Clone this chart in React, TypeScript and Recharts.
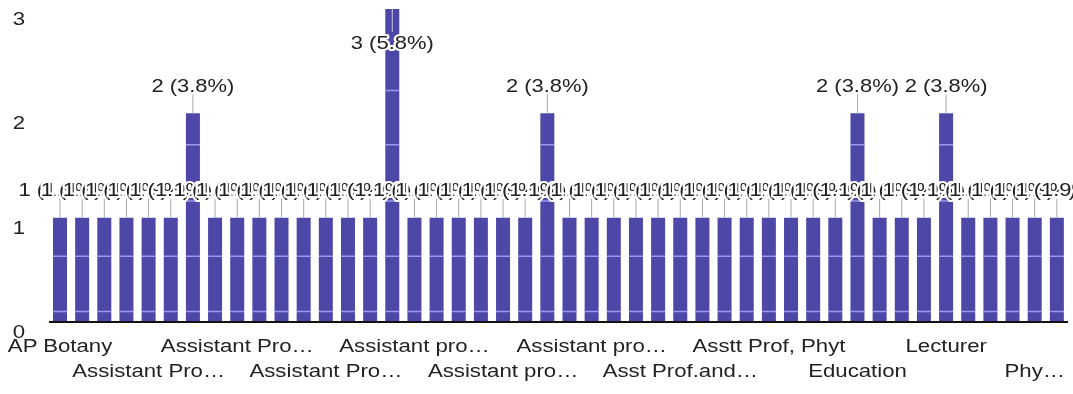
import React from "react";
import { BarChart, Bar, XAxis, YAxis, LabelList, ReferenceLine } from "recharts";

const categories: string[] = [
  "AP Botany", "AP Chemistry", "AP Physics", "AP Zoology",
  "Assistant Professor", "Assistant Professor Biology", "Assistant Professor Botany", "Assistant Professor Chemistry",
  "Assistant Professor Commerce", "Assistant Professor Economics", "Assistant Professor English", "Assistant Professor Hindi",
  "Assistant Professor History", "Assistant Professor Mathematics", "Assistant Professor Physics", "Assistant Professor Zoology",
  "Assistant professor", "Assistant professor Biology", "Assistant professor Botany", "Assistant professor Chemistry",
  "Assistant professor Commerce", "Assistant professor English", "Assistant professor Physics", "Assistant professor Zoology",
  "Assistant professor, Botany", "Asst Prof", "Asst Prof Botany", "Asst Prof Physics",
  "Asst Prof.and Head", "Asst. Professor", "Asst. Professor Botany", "Asstt Prof",
  "Asstt Prof, Phyt", "Associate Professor", "Associate Professor Botany", "Dean",
  "Education", "Guest Faculty", "HOD", "Head",
  "Lecturer", "Lecturer Botany", "Lecturer Physics", "Librarian",
  "Physics Lecturer", "Principal",
];

const counts: number[] = [
  1, 1, 1, 1, 1, 1, 2, 1, 1, 1, 1, 1, 1, 1, 1, 3,
  1, 1, 1, 1, 1, 1, 2, 1, 1, 1, 1, 1, 1, 1, 1, 1,
  1, 1, 1, 1, 2, 1, 1, 1, 2, 1, 1, 1, 1, 1,
];

const tickLabels: string[] = [
  "AP Botany", "Assistant Pro…", "Assistant Pro…", "Assistant Pro…",
  "Assistant pro…", "Assistant pro…", "Assistant pro…", "Asst Prof.and…",
  "Asstt Prof, Phyt", "Education", "Lecturer", "Phy…",
];

const yTicks: number[] = [0, 1, 2, 3];
const stripeLevels: number[] = [0.1, 0.63, 1.16, 1.7, 2.22];

const total = counts.reduce((a, b) => a + b, 0);
const data = categories.map((name, i) => ({ name, count: counts[i] }));

const FONT = "'Liberation Sans', Arial, sans-serif";
const BAR = "#4d48a7";

const XTick = (props: any) => {
  const { x, y, payload } = props;
  const idx = payload.index as number;
  const slot = Math.round(idx / 4);
  const label = tickLabels[slot] ?? payload.value;
  const row = slot % 2;
  const by = y + (row === 0 ? 22 : 47);
  return (
    <g transform={`translate(${x},${by}) scale(1.2,1)`}>
      <text textAnchor="middle" fontSize={18.5} fill="#222" fontFamily={FONT}>
        {label}
      </text>
    </g>
  );
};

const YTick = (props: any) => {
  const { x, y, payload } = props;
  return (
    <g transform={`translate(${x - 16},${y + 16}) scale(1.2,1)`}>
      <text textAnchor="end" fontSize={18.5} fill="#222" fontFamily={FONT}>
        {payload.value}
      </text>
    </g>
  );
};

const renderLabel = (p: any) => {
  const vb = p.viewBox ?? p;
  const x = Number(p.x ?? vb.x);
  const y = Number(p.y ?? vb.y);
  const w = Number(p.width ?? vb.width);
  const v = Number(p.value);
  const cx = x + w / 2;
  const cy = Math.max(y - 28, 42);
  const txt = `${v} (${((v / total) * 100).toFixed(1)}%)`;
  const y1 = cy > y ? cy - 10 : cy + 9;
  return (
    <g>
      <line x1={cx} x2={cx} y1={y1} y2={y} stroke={cy > y ? "#c8c8e8" : "#a8a8a8"} strokeWidth={1} />
      <g transform={`translate(${cx},${cy + 6.5}) scale(1.22,1)`}>
        <text
          textAnchor="middle"
          fontSize={18}
          fill="#222"
          fontFamily={FONT}
          stroke="#ffffff"
          strokeWidth={4}
          strokeLinejoin="round"
          style={{ paintOrder: "stroke" }}
        >
          {txt}
        </text>
      </g>
    </g>
  );
};

export default function App() {
  return (
    <div style={{ position: "absolute", left: 0, top: 0, width: 1073, height: 394, background: "#fff" }}>
      <style>{`.stripe line { mix-blend-mode: lighten; }`}</style>
      <BarChart
        width={1073}
        height={394}
        data={data}
        margin={{ top: 9, right: 5, bottom: 12, left: 9 }}
        barSize={14}
      >
        <XAxis
          dataKey="name"
          interval={3}
          tickLine={false}
          axisLine={{ stroke: "#111", strokeWidth: 2 }}
          height={60}
          tick={<XTick />}
        />
        <YAxis
          domain={[0, 3]}
          ticks={yTicks}
          width={40}
          axisLine={false}
          tickLine={false}
          tick={<YTick />}
        />
        <Bar dataKey="count" fill={BAR} isAnimationActive={false}>
          <LabelList dataKey="count" content={renderLabel} />
        </Bar>
        {stripeLevels.map((lv) => (
          <ReferenceLine key={lv} y={lv} stroke="#9c98ee" strokeWidth={1.5} className="stripe" />
        ))}
      </BarChart>
    </div>
  );
}
